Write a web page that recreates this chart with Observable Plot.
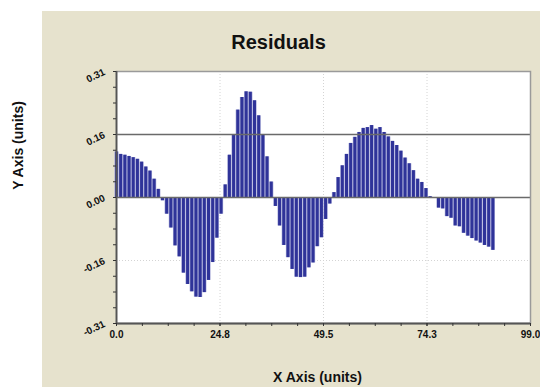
<!DOCTYPE html>
<html><head><meta charset="utf-8">
<script src="https://cdn.jsdelivr.net/npm/d3@7"></script>
<script src="https://cdn.jsdelivr.net/npm/@observablehq/plot@0.6"></script>
<style>
html,body{margin:0;padding:0;background:#fff;}
#wrap{position:relative;width:540px;height:387px;overflow:hidden;}
#panel{position:absolute;left:42px;top:11px;width:498px;height:376px;background:#e6e2cd;}
#chart{position:absolute;left:0;top:0;}
</style></head><body>
<div id="wrap"><div id="panel"></div><div id="chart"></div></div>
<script>
const titleText = "Residuals";
const xLabelText = "X Axis (units)";
const yLabelText = "Y Axis (units)";

// residual value for each x = 0, 1, 2, ... 90
const residuals = [
  0.112, 0.106, 0.104, 0.101, 0.098, 0.094, 0.087, 0.075, 0.065, 0.045,
  0.020, -0.008, -0.041, -0.075, -0.119, -0.146, -0.186, -0.214, -0.232, -0.245,
  -0.246, -0.234, -0.204, -0.160, -0.100, -0.041, 0.031, 0.104, 0.155, 0.215,
  0.246, 0.260, 0.259, 0.238, 0.201, 0.155, 0.100, 0.038, -0.022, -0.070,
  -0.118, -0.148, -0.177, -0.196, -0.197, -0.196, -0.173, -0.161, -0.121, -0.099,
  -0.054, -0.016, 0.012, 0.049, 0.078, 0.106, 0.133, 0.148, 0.160, 0.170,
  0.172, 0.177, 0.168, 0.172, 0.160, 0.149, 0.138, 0.128, 0.114, 0.097,
  0.083, 0.066, 0.045, 0.037, 0.022, 0.002, 0.000, -0.026, -0.028, -0.047,
  -0.051, -0.070, -0.072, -0.088, -0.095, -0.101, -0.107, -0.112, -0.118, -0.122,
  -0.130
];

const xTickValues = [0, 24.75, 49.5, 74.25, 99];
const xTickLabels = ["0.0", "24.8", "49.5", "74.3", "99.0"];
const yTickValues = [-0.31, -0.155, 0, 0.155, 0.31];
const yTickLabels = ["-0.31", "-0.16", "0.00", "0.16", "0.31"];
const refLines = [0.155, 0];
const faintY = [-0.155];
const faintX = [24.75, 49.5, 74.25];

const xMinor = d3.range(0, 99.001, 24.75 / 4);
const yMinor = d3.range(-0.31, 0.3101, 0.155 / 4);

const data = residuals.map((v, i) => ({x: i, v}));

const chart = Plot.plot({
  width: 540, height: 387,
  marginLeft: 116, marginRight: 10, marginTop: 71, marginBottom: 64,
  style: {background: "transparent", fontFamily: "'Liberation Sans', Arial, sans-serif", color: "#111"},
  x: {domain: [0, 99], label: null},
  y: {domain: [-0.31, 0.31], label: null},
  marks: [
    Plot.frame({fill: "white"}),
    Plot.ruleX(faintX, {stroke: "#d4d4d4", strokeDasharray: "1,2"}),
    Plot.ruleY(faintY, {stroke: "#d4d4d4", strokeDasharray: "1,2"}),
    Plot.ruleX(data, {x: "x", y1: 0, y2: "v", stroke: "#a8abd8", strokeWidth: 4.2}),
    Plot.ruleX(data, {x: "x", y1: 0, y2: "v", stroke: "#2f3399", strokeWidth: 3}),
    Plot.ruleY(refLines, {stroke: "#6a6a6a", strokeWidth: 1.4}),
    Plot.frame({stroke: "#9a9a9a", strokeWidth: 1.5}),
    Plot.ruleX([0], {stroke: "#555", strokeWidth: 1.8}),
    Plot.ruleY([-0.31], {stroke: "#555", strokeWidth: 1.8}),
    Plot.axisX({ticks: xMinor, tickFormat: () => "", tickSize: 3, stroke: "#333", label: null}),
    Plot.axisX({ticks: xTickValues, tickFormat: d => xTickLabels[xTickValues.indexOf(d)],
      tickSize: 3, tickPadding: 4, fontWeight: "bold", fontSize: 10, stroke: "#333", label: null}),
    Plot.axisY({ticks: yMinor, tickFormat: () => "", tickSize: 3, stroke: "#333", label: null}),
    Plot.axisY({ticks: yTickValues, tickFormat: d => yTickLabels[yTickValues.indexOf(d)],
      tickSize: 3, tickPadding: 9, tickRotate: -25, fontWeight: "bold", fontSize: 10, stroke: "#333", label: null}),
    Plot.text([titleText], {frameAnchor: "top", lineAnchor: "middle", dx: -45, dy: -29, fontSize: 20, fontWeight: "bold", fill: "#111"}),
    Plot.text([xLabelText], {frameAnchor: "bottom", lineAnchor: "middle", dx: -6, dy: 54, fontSize: 14, fontWeight: "bold", fill: "#111"}),
    Plot.text([yLabelText], {frameAnchor: "left", textAnchor: "middle", lineAnchor: "middle", dx: -98, dy: -52, rotate: -90, fontSize: 14, fontWeight: "bold", fill: "#111"})
  ]
});
document.getElementById("chart").appendChild(chart);
</script>
</body></html>
